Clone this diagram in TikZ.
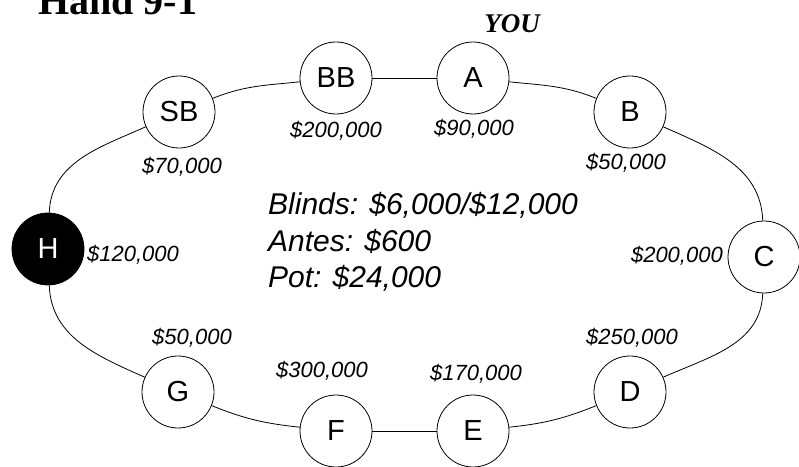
\documentclass[tikz,border=0pt]{standalone}
\usepackage{fontspec}
\setmainfont{Liberation Sans}
\newfontfamily\bookfont{Liberation Serif}
\usetikzlibrary{positioning}

\begin{document}
\begin{tikzpicture}[
    x=1pt, y=1pt,
    seat/.style={draw, circle, line width=0.8pt, minimum size=72pt, inner sep=0pt,
                 fill=white, font=\fontsize{29}{29}\selectfont},
    button/.style={seat, fill=black, text=white},
    chips/.style={font=\fontsize{22}{22}\selectfont\itshape, inner sep=0pt},
    rim/.style={line width=0.8pt},
]
\useasboundingbox (0,0) rectangle (799,466);
\clip (0,0) rectangle (799,466);

% ---------- title ----------
\node[anchor=base west, inner sep=0pt, font=\bookfont\bfseries\fontsize{40}{40}\selectfont] (title) at (38,451) {Hand 9-1};
\node[anchor=base, inner sep=0pt, font=\bookfont\bfseries\itshape\fontsize{27}{27}\selectfont] (you) at (512,433) {YOU};

% ---------- seats, clockwise from the big blind ----------
\node[seat]   (BB) at (336,388) {BB};
\node[seat]   (A)  at (473,388) {A};
\node[seat]   (B)  at (630,354) {B};
\node[seat]   (C)  at (764,209) {C};
\node[seat]   (D)  at (630,74)  {D};
\node[seat]   (E)  at (473,35)  {E};
\node[seat]   (F)  at (336,35)  {F};
\node[seat]   (G)  at (178,74)  {G};
\node[button] (H)  at (48,217)  {H};
\node[seat]   (SB) at (179,354) {SB};

% ---------- table rim ----------
\draw[rim] (BB) -- (A);
\draw[rim] (A)  to[out=-6,  in=158]  (B);
\draw[rim] (B)  to[out=-24, in=92]   (C);
\draw[rim] (C)  to[out=-92, in=24]   (D);
\draw[rim] (D)  to[out=-158,in=6]    (E);
\draw[rim] (E)  -- (F);
\draw[rim] (F)  to[out=174, in=-22]  (G);
\draw[rim] (G)  to[out=156, in=-88]  (H);
\draw[rim] (H)  to[out=88,  in=-156] (SB);
\draw[rim] (SB) to[out=22,  in=-174] (BB);

% ---------- stacks ----------
\node[chips] (sBB) at (336,335) {\$200,000};
\node[chips] (sA)  at (474,337) {\$90,000};
\node[chips] (sB)  at (626,303) {\$50,000};
\node[chips, anchor=east] (sC) at (723,210) {\$200,000};
\node[chips] (sD)  at (632,128) {\$250,000};
\node[chips] (sE)  at (476,92)  {\$170,000};
\node[chips] (sF)  at (322,95)  {\$300,000};
\node[chips] (sG)  at (192,128) {\$50,000};
\node[chips, anchor=west] (sH) at (87,211) {\$120,000};
\node[chips] (sSB) at (182,299) {\$70,000};

% ---------- pot info (base = last line) ----------
\node[anchor=base west, inner sep=0pt, align=left,
      font=\fontsize{30}{36}\selectfont\itshape] (pot) at (268,179)
  {Blinds: \$6,000/\$12,000\\ Antes: \$600\\ Pot: \$24,000};

\end{tikzpicture}
\end{document}
